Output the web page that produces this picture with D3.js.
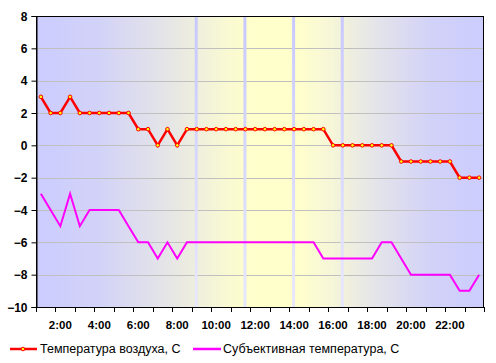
<!DOCTYPE html>
<html>
<head>
<meta charset="utf-8">
<script src="https://cdn.jsdelivr.net/npm/d3@7"></script>
<style>
  html, body { margin: 0; padding: 0; background: #ffffff; }
  svg { display: block; }
</style>
</head>
<body>
<svg id="chart" width="496" height="363"></svg>
<script>
// ---- data ----
const times = [];
for (let h = 1; h <= 23; h++) { times.push(h + ":00"); times.push(h + ":30"); }
const airTemp = [3,2,2,3,2,2,2,2,2,2,1,1,0,1,0,
  1,1,1,1,1,1,1,1,1,1,1,1,1,1,1,
  0,0,0,0,0,0,0,
  -1,-1,-1,-1,-1,-1,
  -2,-2,-2];
const feelTemp = [-3,-4,-5,-3,-5,-4,-4,-4,-4,-5,-6,-6,-7,-6,-7,
  -6,-6,-6,-6,-6,-6,-6,-6,-6,-6,-6,-6,-6,-6,
  -7,-7,-7,-7,-7,-7,
  -6,-6,-7,
  -8,-8,-8,-8,-8,
  -9,-9,-8];
const xTickLabels = ["2:00","4:00","6:00","8:00","10:00","12:00","14:00","16:00","18:00","20:00","22:00"];
const yTicks = [-10,-8,-6,-4,-2,0,2,4,6,8];
const markerTimes = ["9:00","11:30","14:00","16:30"];
const seriesNames = ["Температура воздуха, С", "Субъективная температура, С"];

// ---- layout ----
const L = 36, R = 484, T = 16, B = 307;
const svg = d3.select("#chart");
const x = d3.scaleBand().domain(times).range([L, R]).padding(0);
const cx = t => x(t) + x.bandwidth() / 2;
const y = d3.scaleLinear().domain([-10, 8]).range([B, T]);

const defs = svg.append("defs");
const bg = defs.append("linearGradient").attr("id", "bg").attr("x1", "0").attr("x2", "1").attr("y1", "0").attr("y2", "0");
[[0, "#ccccff"], [0.14, "#d2d2f8"], [0.3, "#e6e6e6"], [0.42, "#f8f8d4"], [0.48, "#ffffcc"],
 [0.58, "#ffffcc"], [0.66, "#f6f6d8"], [0.76, "#e4e4ea"], [0.88, "#d2d2f8"], [1, "#ccccff"]]
  .forEach(([o, c]) => bg.append("stop").attr("offset", o).attr("stop-color", c));
const vg = defs.append("linearGradient").attr("id", "vline").attr("x1", "0").attr("x2", "0").attr("y1", "0").attr("y2", "1");
vg.append("stop").attr("offset", 0).attr("stop-color", "#c8c8ff");
vg.append("stop").attr("offset", 1).attr("stop-color", "#e8e8fc");

svg.append("rect").attr("x", L).attr("y", T).attr("width", R - L).attr("height", B - T).attr("fill", "url(#bg)");

// horizontal grid
svg.append("g").selectAll("line").data(yTicks.filter(v => v > -10 && v < 8)).join("line")
  .attr("x1", L).attr("x2", R).attr("y1", d => Math.round(y(d)) + 0.5).attr("y2", d => Math.round(y(d)) + 0.5)
  .attr("stroke", "#c0c0c0").attr("stroke-width", 1);

// vertical lavender lines
svg.append("g").selectAll("rect").data(markerTimes).join("rect")
  .attr("x", d => cx(d) - 1.5 - 0.5).attr("y", T).attr("width", 3).attr("height", B - T)
  .attr("fill", "url(#vline)");

// frame
svg.append("rect").attr("x", L + 0.5).attr("y", T + 0.5).attr("width", R - L - 1).attr("height", B - T)
  .attr("fill", "none").attr("stroke", "#000").attr("stroke-width", 1);

// y axis
const yAxis = d3.axisLeft(y).tickValues(yTicks).tickSize(5).tickFormat(d3.format("d"));
const gy = svg.append("g").attr("transform", `translate(${L + 0.5},0)`).call(yAxis);
gy.select(".domain").attr("stroke", "#000");
gy.selectAll(".tick line").attr("stroke", "#000");
gy.selectAll("text").attr("font-family", "Liberation Sans, Arial, sans-serif").attr("font-size", 12)
  .attr("font-weight", "bold").attr("fill", "#000").attr("x", -9).attr("dy", "0.36em");

// x axis ticks every two categories at boundaries
const tickXs = [];
for (let i = 0; i <= times.length; i += 2) tickXs.push(i < times.length ? x(times[i]) : R);
svg.append("g").selectAll("line").data(tickXs).join("line")
  .attr("x1", d => Math.round(d) + 0.5).attr("x2", d => Math.round(d) + 0.5)
  .attr("y1", B).attr("y2", B + 5).attr("stroke", "#000");
svg.append("line").attr("x1", L).attr("x2", R).attr("y1", B + 0.5).attr("y2", B + 0.5).attr("stroke", "#000");
svg.append("g").selectAll("text").data(xTickLabels).join("text")
  .attr("x", d => cx(d)).attr("y", 329).attr("text-anchor", "middle")
  .attr("font-family", "Liberation Sans, Arial, sans-serif").attr("font-size", 11.5).attr("font-weight", "bold")
  .text(d => d);

// lines
const line = d3.line().x((d, i) => cx(times[i])).y(d => y(d));
svg.append("path").datum(feelTemp).attr("d", line).attr("fill", "none").attr("stroke", "#ff00ff").attr("stroke-width", 2);
svg.append("path").datum(airTemp).attr("d", line).attr("fill", "none").attr("stroke", "#ff0000").attr("stroke-width", 2.5);
svg.append("g").selectAll("circle").data(airTemp).join("circle")
  .attr("cx", (d, i) => cx(times[i])).attr("cy", d => y(d)).attr("r", 1.8)
  .attr("fill", "#ffff00").attr("stroke", "#ff0000").attr("stroke-width", 1);

// legend
const lg = svg.append("g").attr("font-family", "Liberation Sans, Arial, sans-serif").attr("font-size", 12.5);
lg.append("line").attr("x1", 10).attr("x2", 37).attr("y1", 349).attr("y2", 349).attr("stroke", "#ff0000").attr("stroke-width", 2.5);
lg.append("circle").attr("cx", 23).attr("cy", 349).attr("r", 1.8).attr("fill", "#ffff00").attr("stroke", "#ff0000");
lg.append("text").attr("x", 40).attr("y", 353).text(seriesNames[0]);
lg.append("line").attr("x1", 193).attr("x2", 221).attr("y1", 349).attr("y2", 349).attr("stroke", "#ff00ff").attr("stroke-width", 2.5);
lg.append("text").attr("x", 223).attr("y", 353).text(seriesNames[1]);
</script>
</body>
</html>
